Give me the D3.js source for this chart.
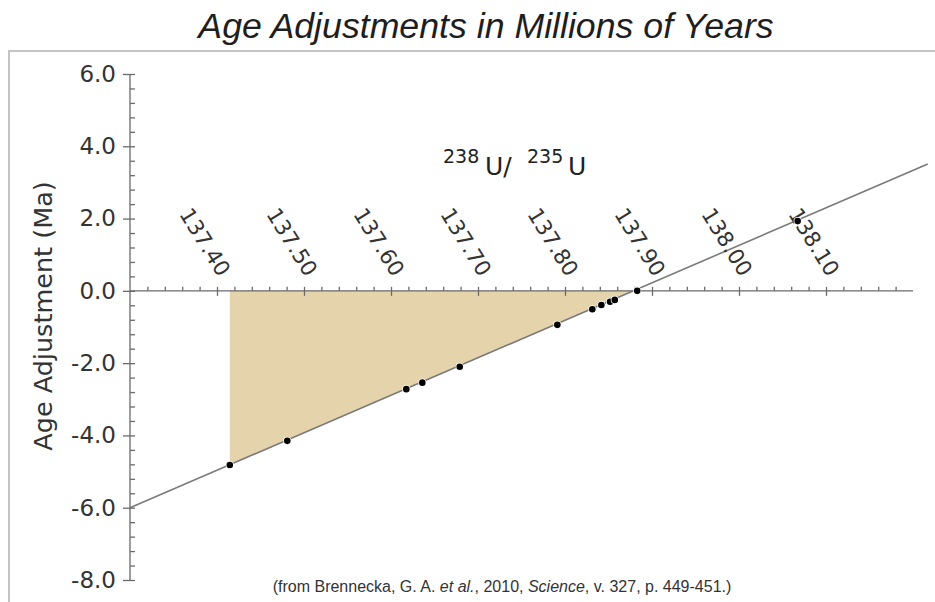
<!DOCTYPE html>
<html>
<head>
<meta charset="utf-8">
<script src="https://cdn.jsdelivr.net/npm/d3@7"></script>
<style>
  html, body { margin: 0; padding: 0; background: #fff; }
  svg { display: block; }
</style>
</head>
<body>
<svg id="chart" width="935" height="602"></svg>
<script>
// Uranium isotope ratio (238U/235U) against the resulting age adjustment (Ma)
const xMajorTicks = [137.40, 137.50, 137.60, 137.70, 137.80, 137.90, 138.00, 138.10];
const yMajorTicks = [-8, -6, -4, -2, 0, 2, 4, 6];

// Measured samples
const sampleRatio = [137.4147, 137.4808, 137.6176, 137.6360, 137.6790, 137.7912,
                     137.8314, 137.8418, 137.8518, 137.8572, 137.8830, 138.0674];
const sampleAdj   = [-4.82, -4.15, -2.72, -2.54, -2.10, -0.94,
                     -0.51, -0.39, -0.30, -0.25, 0.00, 1.93];

// Calibration line endpoints
const lineRatio = [137.30, 138.217];
const lineAdj   = [-6.00, 3.51];

// Shaded adjustment region: from the oldest sample up to the zero crossing
const shadeRatio = [137.4147, 137.879];
const shadeAdj   = [-4.82, 0.00];

const svg = d3.select("#chart");
const FONT = "'DejaVu Sans', sans-serif";

const x = d3.scaleLinear().domain([137.30, 138.20]).range([130, 913]);
const y = d3.scaleLinear().domain([-8, 6]).range([580, 74]);

// Outer frame (left and top edges)
svg.append("path")
  .attr("d", "M9,602 V51 H935")
  .attr("fill", "none")
  .attr("stroke", "#c4c4c4")
  .attr("stroke-width", 2);

// Title
svg.append("text")
  .attr("x", 486).attr("y", 38)
  .attr("text-anchor", "middle")
  .attr("font-family", "'Liberation Sans', Arial, sans-serif")
  .attr("font-style", "italic")
  .attr("font-size", 35.7)
  .attr("fill", "#1e1e1e")
  .text("Age Adjustments in Millions of Years");

// Shaded area between the calibration line and zero
const shade = shadeRatio.map((r, i) => ({ r, a: shadeAdj[i] }));
svg.append("path")
  .datum(shade)
  .attr("d", d3.area().x(d => x(d.r)).y0(y(0)).y1(d => y(d.a)))
  .attr("fill", "#e5d3ab");

// Calibration line
const line = lineRatio.map((r, i) => ({ r, a: lineAdj[i] }));
svg.append("path")
  .datum(line)
  .attr("d", d3.line().x(d => x(d.r)).y(d => y(d.a)))
  .attr("fill", "none")
  .attr("stroke", "#7a7a7a")
  .attr("stroke-width", 1.6);

// ---- Y axis ----
const yAxisG = svg.append("g").attr("transform", `translate(${x(137.30)},0)`);
const yMinor = d3.range(-8, 6.001, 0.4).filter(v => Math.abs(v / 2 - Math.round(v / 2)) > 1e-6);
yAxisG.append("g")
  .call(d3.axisRight(y).tickValues(yMinor).tickSize(5).tickFormat(""))
  .call(g => g.select(".domain").remove());
yAxisG.append("g")
  .call(d3.axisLeft(y).tickValues(yMajorTicks).tickSize(7).tickPadding(7)
        .tickFormat(d => d3.format(".1f")(d).replace("−", "-")))
  .call(g => g.select(".domain").attr("d", `M0,${y(-8)}V${y(6)}`))
  .call(g => g.selectAll(".tick line").attr("x2", -7).attr("x1", 5))
  .call(g => g.selectAll(".tick text")
        .attr("font-family", FONT).attr("font-size", 23).attr("fill", "#333"));
yAxisG.selectAll("line, path").attr("stroke", "#6a6a6a").attr("stroke-width", 1.3);

// Y axis title
svg.append("text")
  .attr("transform", `translate(52,316) rotate(-90)`)
  .attr("text-anchor", "middle")
  .attr("font-family", FONT)
  .attr("font-size", 25.5)
  .attr("fill", "#333")
  .text("Age Adjustment (Ma)");

// ---- X axis (drawn along zero) ----
const xAxisG = svg.append("g").attr("transform", `translate(0,${y(0)})`);
const xMinor = d3.range(137.32, 138.181, 0.02).filter(v => Math.abs(v * 10 - Math.round(v * 10)) > 1e-6);
xAxisG.append("g")
  .call(d3.axisTop(x).tickValues(xMinor).tickSize(4).tickFormat(""))
  .call(g => g.select(".domain").remove());
xAxisG.append("g")
  .call(d3.axisTop(x).tickValues(xMajorTicks).tickSize(4).tickFormat(d3.format(".2f")))
  .call(g => g.select(".domain").attr("d", `M${x(137.30)},0H${x(138.20)}`))
  .call(g => g.selectAll(".tick line").attr("y1", 5).attr("y2", -4))
  .call(g => g.selectAll(".tick text")
        .attr("font-family", FONT).attr("font-size", 21.5).attr("fill", "#333")
        .attr("text-anchor", "end")
        .attr("y", 0).attr("dy", 0)
        .attr("transform", "translate(1,-13) rotate(58)"));
xAxisG.selectAll("line, path").attr("stroke", "#6a6a6a").attr("stroke-width", 1.3);

// Samples
const samples = sampleRatio.map((r, i) => ({ r, a: sampleAdj[i] }));
svg.append("g").selectAll("circle")
  .data(samples)
  .join("circle")
  .attr("cx", d => x(d.r))
  .attr("cy", d => y(d.a))
  .attr("r", 3.3)
  .attr("fill", "#000")
  .attr("stroke", "#fff")
  .attr("stroke-width", 1.5)
  .attr("paint-order", "stroke");

// Ratio label: 238U / 235U
const lab = svg.append("text")
  .attr("font-family", FONT)
  .attr("fill", "#222");
lab.append("tspan").attr("x", 443).attr("y", 163).attr("font-size", 19).text("238");
lab.append("tspan").attr("x", 485).attr("y", 175).attr("font-size", 25).text("U/");
lab.append("tspan").attr("x", 527).attr("y", 163).attr("font-size", 19).text("235");
lab.append("tspan").attr("x", 568).attr("y", 175).attr("font-size", 25).text("U");

// Source note
const note = svg.append("text")
  .attr("x", 502).attr("y", 592)
  .attr("text-anchor", "middle")
  .attr("font-family", "'Liberation Sans', Arial, sans-serif")
  .attr("font-size", 16)
  .attr("fill", "#333");
note.append("tspan").text("(from Brennecka, G. A. ");
note.append("tspan").attr("font-style", "italic").text("et al.");
note.append("tspan").text(", 2010, ");
note.append("tspan").attr("font-style", "italic").text("Science");
note.append("tspan").text(", v. 327, p. 449-451.)");
</script>
</body>
</html>
